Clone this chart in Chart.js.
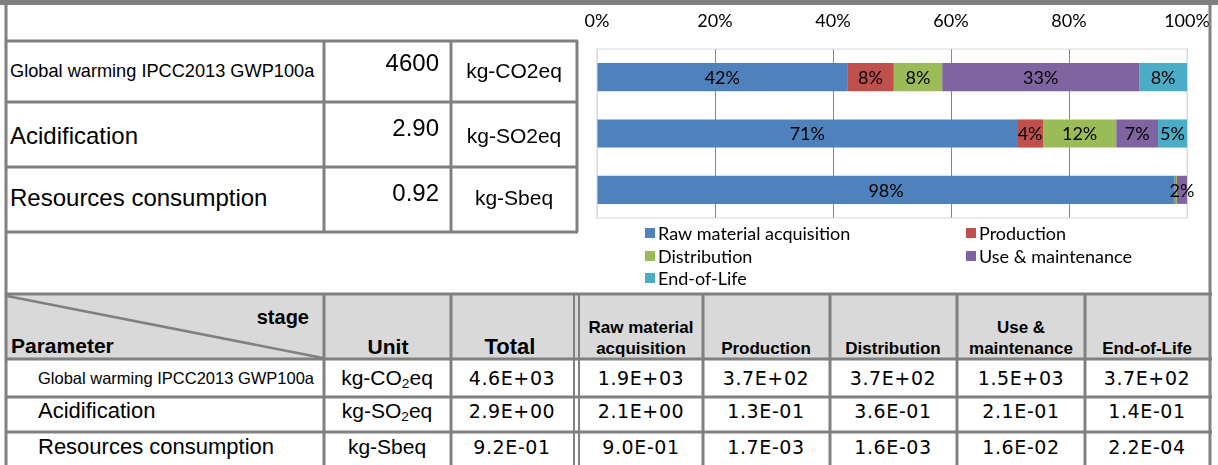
<!DOCTYPE html>
<html>
<head>
<meta charset="utf-8">
<script src="https://cdn.jsdelivr.net/npm/chart.js@4.4.1/dist/chart.umd.min.js"></script>
<style>
  body { margin: 0; background: #fff; font-family: "Liberation Sans", Arial, sans-serif; }
  #page { position: relative; width: 1218px; height: 465px; overflow: hidden; }
  #lines { position: absolute; left: 0; top: 0; pointer-events: none; }
  #headBg { position: absolute; left: 7px; top: 295px; width: 1202px; height: 63px; background: #D9D9D9; }
  .t { position: absolute; white-space: nowrap; color: #000; }
  .t sub { font-size: 0.65em; vertical-align: -0.25em; line-height: 0; }
  #chartBox { position: absolute; left: 560px; top: 6px; width: 650px; height: 284px; }
</style>
</head>
<body>
<div id="page">
  <div id="headBg"></div>
  <div id="chartBox"><canvas id="lca"></canvas></div>
  <svg id="lines" width="1218" height="465"></svg>
</div>
<script>
// --- data ---
const params = ['Global warming IPCC2013 GWP100a', 'Acidification', 'Resources consumption'];
const units = ['kg-CO2eq', 'kg-SO2eq', 'kg-Sbeq'];
const unitsSub = ['kg-CO<sub>2</sub>eq', 'kg-SO<sub>2</sub>eq', 'kg-Sbeq'];
const totals = ['4600', '2.90', '0.92'];
const totalsSci = ['4.6E+03', '2.9E+00', '9.2E-01'];
const stages = ['Raw material acquisition', 'Production', 'Distribution', 'Use & maintenance', 'End-of-Life'];
const stageHeads = [['Raw material', 'acquisition'], ['Production'], ['Distribution'], ['Use &', 'maintenance'], ['End-of-Life']];
const rawValues  = ['1.9E+03', '2.1E+00', '9.0E-01'];
const prodValues = ['3.7E+02', '1.3E-01', '1.7E-03'];
const distValues = ['3.7E+02', '3.6E-01', '1.6E-03'];
const useValues  = ['1.5E+03', '2.1E-01', '1.6E-02'];
const eolValues  = ['3.7E+02', '1.4E-01', '2.2E-04'];
// shares in %
const rawShare  = [42.4, 71.2, 97.9];
const prodShare = [7.9, 4.4, 0.2];
const distShare = [8.2, 12.4, 0.2];
const useShare  = [33.4, 7.1, 1.7];
const eolShare  = [8.1, 4.9, 0.02];
const xTicks = [0, 20, 40, 60, 80, 100];
const colors = ['#4F81BD', '#C0504D', '#9BBB59', '#8064A2', '#4BACC6'];

// --- table drawing helpers ---
const page = document.getElementById('page');
const svg = document.getElementById('lines');
const GRAY = '#808080';

function rect(x, y, w, h, fill) {
  const r = document.createElementNS('http://www.w3.org/2000/svg', 'rect');
  r.setAttribute('x', x); r.setAttribute('y', y);
  r.setAttribute('width', w); r.setAttribute('height', h);
  r.setAttribute('fill', fill);
  svg.appendChild(r);
}
function line(x1, y1, x2, y2, w) {
  const l = document.createElementNS('http://www.w3.org/2000/svg', 'line');
  l.setAttribute('x1', x1); l.setAttribute('y1', y1);
  l.setAttribute('x2', x2); l.setAttribute('y2', y2);
  l.setAttribute('stroke', GRAY); l.setAttribute('stroke-width', w || 3);
  svg.appendChild(l);
}
// align: 'l' -> x is left edge, 'r' -> right edge, 'c' -> centre
function text(html, x, cy, size, align, opts) {
  opts = opts || {};
  const d = document.createElement('div');
  d.className = 't';
  d.innerHTML = html;
  d.style.fontSize = size + 'px';
  d.style.height = '40px';
  d.style.lineHeight = '40px';
  d.style.top = (cy - 20) + 'px';
  if (opts.bold) d.style.fontWeight = 'bold';
  if (opts.family) d.style.fontFamily = opts.family;
  if (opts.ls) d.style.letterSpacing = opts.ls + 'px';
  if (align === 'l') { d.style.left = x + 'px'; }
  else if (align === 'r') { d.style.left = (x - 400) + 'px'; d.style.width = '400px'; d.style.textAlign = 'right'; }
  else { d.style.left = (x - 200) + 'px'; d.style.width = '400px'; d.style.textAlign = 'center'; }
  page.insertBefore(d, svg);
}

// title band and outer frame
rect(0, 0, 1218, 5, GRAY);
line(6, 0, 6, 465);
line(1210, 0, 1210, 465);

// upper summary table
[41, 102, 167, 232].forEach(y => line(5, y, 578, y));
[324, 451, 577].forEach(x => line(x, 41, x, 232));
const upperCy = [71, 136, 198];
const upperSize = [18.2, 24, 24];
const totalCy = [63, 128, 193];
params.forEach((p, i) => {
  text(p, 10, upperCy[i], upperSize[i], 'l');
  text(totals[i], 439, totalCy[i], 24, 'r');
  text(units[i], 514, upperCy[i], 21, 'c');
});

// lower detail table
line(5, 294, 1212, 294);
[359, 397, 432].forEach(y => line(5, y, 1212, y));
[324, 451, 703, 830, 957, 1085].forEach(x => line(x, 294, x, 465));
line(574, 294, 574, 465, 2);
line(579, 294, 579, 465, 2);
line(7, 296, 323, 358, 2.5);

text('stage', 309, 317, 20, 'r', { bold: true });
text('Parameter', 11, 346, 21, 'l', { bold: true });
text('Unit', 388, 347, 21, 'c', { bold: true });
text('Total', 510, 347, 22, 'c', { bold: true });
const stageCx = [641, 766, 893, 1021, 1147];
stageHeads.forEach((h, i) => {
  if (h.length === 2) {
    text(h[0], stageCx[i], 328, 17, 'c', { bold: true });
    text(h[1], stageCx[i], 349, 17, 'c', { bold: true });
  } else {
    text(h[0], stageCx[i], 349, 17, 'c', { bold: true });
  }
});
const lowerCy = [378, 411, 447];
const lowerSize = [16.5, 22, 22];
const numFont = { family: '"DejaVu Sans", Verdana, sans-serif', ls: 0.6 };
const stageCols = [rawValues, prodValues, distValues, useValues, eolValues];
params.forEach((p, i) => {
  text(p, 38, lowerCy[i], lowerSize[i], 'l');
  text(unitsSub[i], 387, lowerCy[i], 21, 'c');
  text(totalsSci[i], 512, lowerCy[i], 19, 'c', numFont);
  stageCols.forEach((col, j) => text(col[i], stageCx[j], lowerCy[i], 19, 'c', numFont));
});

// --- chart ---
const chartFont = { family: 'Lato, "Open Sans", sans-serif', size: 18 };

const plotFrame = {
  id: 'plotFrame',
  beforeDatasetsDraw(chart) {
    const a = chart.chartArea, c = chart.ctx;
    c.save();
    c.strokeStyle = '#D9D9D9';
    c.lineWidth = 1;
    c.strokeRect(a.left, a.top, a.right - a.left, a.bottom - a.top);
    c.restore();
  }
};

const barLabels = {
  id: 'barLabels',
  afterDatasetsDraw(chart) {
    const c = chart.ctx;
    c.save();
    c.font = chartFont.size + 'px ' + chartFont.family;
    c.fillStyle = '#000';
    c.textAlign = 'center';
    c.textBaseline = 'middle';
    chart.data.datasets.forEach((ds, i) => {
      chart.getDatasetMeta(i).data.forEach((bar, j) => {
        const v = ds.data[j];
        if (v < 1) return;
        const p = bar.getProps(['x', 'y', 'base'], true);
        c.fillText(Math.round(v) + '%', (p.x + p.base) / 2, p.y + 1);
      });
    });
    c.restore();
  }
};

// two-column legend under the plot
const legendCols = [85, 406];
const legendRows = [227, 250, 272];
const sideLegend = {
  id: 'sideLegend',
  afterDraw(chart) {
    const c = chart.ctx;
    c.save();
    c.font = chartFont.size + 'px ' + chartFont.family;
    c.textBaseline = 'middle';
    chart.data.datasets.forEach((ds, i) => {
      const x = legendCols[i % 2], y = legendRows[Math.floor(i / 2)];
      c.fillStyle = ds.backgroundColor;
      c.fillRect(x, y - 5, 10, 10);
      c.fillStyle = '#000';
      c.fillText(ds.label, x + 13, y + 1);
    });
    c.restore();
  }
};

const shares = [rawShare, prodShare, distShare, useShare, eolShare];

new Chart(document.getElementById('lca'), {
  type: 'bar',
  data: {
    labels: params,
    datasets: stages.map((s, i) => ({
      label: s,
      data: shares[i],
      backgroundColor: colors[i],
      borderWidth: 0,
      barPercentage: 1,
      categoryPercentage: 0.5
    }))
  },
  options: {
    indexAxis: 'y',
    responsive: true,
    maintainAspectRatio: false,
    animation: false,
    layout: { padding: { left: 37, right: 23, top: 0, bottom: 72 } },
    plugins: { legend: { display: false }, tooltip: { enabled: false } },
    scales: {
      x: {
        position: 'top',
        stacked: true,
        min: 0,
        max: 100,
        afterBuildTicks: (scale) => { scale.ticks = xTicks.map(v => ({ value: v })); },
        afterFit: (scale) => {
          scale.height = 43;
          scale.paddingLeft = 0;
          scale.paddingRight = 0;
        },
        ticks: {
          padding: 17,
          color: '#000',
          font: chartFont,
          callback: (v) => v + '%'
        },
        grid: {
          drawTicks: false,
          lineWidth: 1,
          color: (ctx) => (ctx.tick && (ctx.tick.value === 0 || ctx.tick.value === 100)) ? '#D9D9D9' : '#868686'
        },
        border: { display: false }
      },
      y: {
        stacked: true,
        display: false
      }
    }
  },
  plugins: [plotFrame, barLabels, sideLegend]
});
</script>
</body>
</html>
